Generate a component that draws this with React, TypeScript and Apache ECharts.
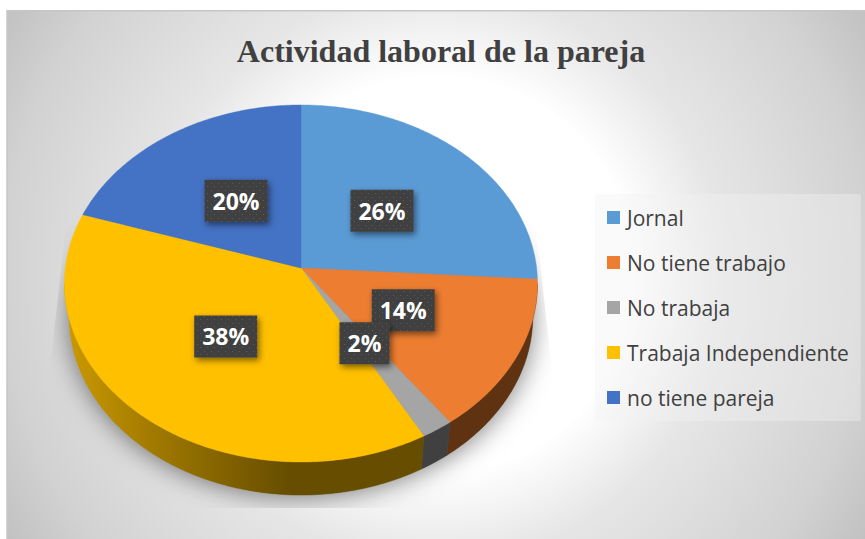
import React, { useEffect, useRef } from "react";
import * as echarts from "echarts";

const categories = ["Jornal", "No tiene trabajo", "No trabaja", "Trabaja Independiente", "no tiene pareja"];
const percents = [26, 14, 2, 38, 20];
const topColors = ["#5B9BD5", "#ED7D31", "#A5A5A5", "#FFC000", "#4472C4"];
const wallColors = ["#2F5B85", "#5F3211", "#404040", "", "#2A4578"];
const titleText = "Actividad laboral de la pareja";

// Perspective disc geometry
const CX = 301, CY = 268, RX = 235.6, RY = 177.2, PERSP = 0.0868, DEPTH = 33, BOTTOM_SCALE = 0.98;
const total = percents.reduce((a, b) => a + b, 0);
const startAngles = percents.map((_, i) => percents.slice(0, i).reduce((a, b) => a + b, 0) / total * 360);

function project(deg: number, f = 1, sx = 1, dy = 0): number[] {
  const t = (deg * Math.PI) / 180;
  const u = Math.sin(t) * f, v = -Math.cos(t) * f;
  const w = 1 - PERSP * v;
  return [CX + (sx * RX * u) / w, CY + (RY * v) / w + dy];
}
function arc(a0: number, a1: number, sx = 1, dy = 0): number[][] {
  const n = Math.max(2, Math.ceil(Math.abs(a1 - a0) / 0.75));
  const pts: number[][] = [];
  for (let i = 0; i <= n; i++) pts.push(project(a0 + ((a1 - a0) * i) / n, 1, sx, dy));
  return pts;
}
const FRONT0 = 95, FRONT1 = 265;

function dotTile(): string {
  const c = document.createElement("canvas");
  c.width = 7; c.height = 7;
  const g = c.getContext("2d")!;
  g.fillStyle = "#404040"; g.fillRect(0, 0, 7, 7);
  g.fillStyle = "#5c5c5c";
  g.fillRect(1, 1, 1, 1); g.fillRect(4, 4, 1, 1);
  return c.toDataURL();
}

export default function App() {
  const ref = useRef<HTMLDivElement>(null);
  useEffect(() => {
    document.body.style.margin = "0";
    const chart = echarts.init(ref.current!, undefined, { renderer: "svg" });
    const tile = dotTile();
    const wallFill = (i: number): any => {
      if (i === 3) {
        return new echarts.graphic.LinearGradient(65, 0, 290, 0, [
          { offset: 0, color: "#CC9A00" },
          { offset: 0.4, color: "#A07900" },
          { offset: 1, color: "#664D00" },
        ], true);
      }
      return wallColors[i];
    };

    const shadowSeries: any = {
      type: "custom", coordinateSystem: "none", silent: true, z: 1, data: [0],
      renderItem: () => ({
        type: "polygon",
        shape: { points: arc(0, 360, BOTTOM_SCALE, DEPTH) },
        style: { fill: "#888", shadowColor: "rgba(0,0,0,0.5)", shadowBlur: 26, shadowOffsetY: 2 },
        clipPath: {
          type: "polygon",
          shape: { points: [[66, 225], [48, 385], [48, 508], [553, 508], [553, 380], [536, 225]] },
        },
      }),
    };
    const wallSeries: any = {
      type: "custom", coordinateSystem: "none", silent: true, z: 2, data: percents.map((_, i) => i),
      renderItem: (_: any, api: any) => {
        const i = api.value(0);
        const a0 = Math.max(startAngles[i], FRONT0);
        const a1 = Math.min(startAngles[i] + (percents[i] / total) * 360, FRONT1);
        if (a1 <= a0) return { type: "group", children: [] };
        const pts = [...arc(a0, a1), ...arc(a1, a0, BOTTOM_SCALE, DEPTH)];
        const fill = wallFill(i);
        return { type: "polygon", shape: { points: pts }, style: { fill, stroke: fill, lineWidth: 0.5 } };
      },
    };
    const sliceSeries: any[] = categories.map((name, i) => ({
      type: "custom", name, coordinateSystem: "none", silent: true, z: 3,
      itemStyle: { color: topColors[i] },
      data: [percents[i]],
      renderItem: (_: any, api: any) => {
        const span = (api.value(0) / total) * 360;
        const pts = [[CX, CY], ...arc(startAngles[i], startAngles[i] + span)];
        return { type: "polygon", shape: { points: pts }, style: { fill: topColors[i], stroke: topColors[i], lineWidth: 0.4 } };
      },
    }));
    const labelSeries: any = {
      type: "custom", coordinateSystem: "none", silent: true, z: 4, data: percents,
      renderItem: (p: any, api: any) => {
        const i = p.dataIndex;
        const v = api.value(0);
        const mid = startAngles[i] + (v / total) * 180;
        const [x, y] = project(mid, 0.485);
        const w = String(v).length * 13 + 37, h = 42;
        return {
          type: "group",
          children: [
            {
              type: "rect",
              shape: { x: x - w / 2, y: y - h / 2, width: w, height: h },
              style: {
                fill: { image: tile, repeat: "repeat", imageWidth: 7, imageHeight: 7 },
                shadowColor: "rgba(0,0,0,0.5)", shadowBlur: 6, shadowOffsetX: 2, shadowOffsetY: 3,
              },
            },
            {
              type: "text",
              style: {
                x, y, text: `${v}%`, fill: "#fff", align: "center", verticalAlign: "middle",
                font: "700 23px 'Open Sans'",
              },
            },
          ],
        };
      },
    };

    chart.setOption({
      animation: false,
      graphic: [{
        type: "rect", z: 0, silent: true,
        shape: { x: 7, y: 10.75, width: 870, height: 540 },
        style: {
          fill: new echarts.graphic.RadialGradient(436, 275, 520, [
            { offset: 0, color: "#ffffff" },
            { offset: 0.38, color: "#ffffff" },
            { offset: 0.55, color: "#e6e6e6" },
            { offset: 0.83, color: "#d2d2d2" },
            { offset: 0.98, color: "#c0c0c0" },
            { offset: 1, color: "#bebebe" },
          ], true),
          stroke: "#c6c6c6", lineWidth: 1.5,
        },
      }],
      title: {
        text: titleText, left: 436, top: 30, textAlign: "center",
        textStyle: { fontFamily: "'Liberation Serif'", fontWeight: "bold", fontSize: 32, color: "#404040" },
      },
      legend: {
        orient: "vertical", left: 595, top: 194, data: categories,
        icon: "rect", itemWidth: 13, itemHeight: 13, itemGap: 18,
        padding: [10, 12, 10, 12],
        backgroundColor: "rgba(242,242,242,0.39)",
        selectedMode: false,
        textStyle: { fontFamily: "'Open Sans'", fontSize: 21, color: "#404040", lineHeight: 27, padding: [0, 0, 0, 2] },
      },
      series: [shadowSeries, wallSeries, ...sliceSeries, labelSeries],
    });
    return () => chart.dispose();
  }, []);
  return <div ref={ref} style={{ width: 865, height: 539 }} />;
}
